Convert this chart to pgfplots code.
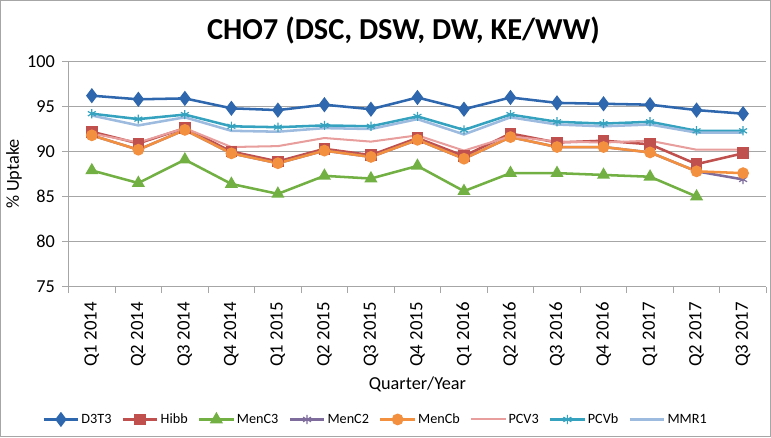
\documentclass[border=0pt]{standalone}
\usepackage{pgfplots}
\pgfplotsset{compat=1.18}
\usepackage{fontspec}
\setmainfont{Carlito}

\definecolor{cD}{HTML}{2E67AE}
\definecolor{cH}{HTML}{C0504D}
\definecolor{cM3}{HTML}{72B043}
\definecolor{cM2}{HTML}{7E6C9C}
\definecolor{cMb}{HTML}{F39040}
\definecolor{cP3}{HTML}{E89E9C}
\definecolor{cPb}{HTML}{35A3C0}
\definecolor{cMM}{HTML}{9DBADF}
\definecolor{gridc}{HTML}{A6A6A6}

\begin{document}
\begin{tikzpicture}
\begin{axis}[
  name=ax,
  scale only axis,
  width=688pt, height=222pt,
  xmin=-0.5, xmax=14.5,
  ymin=75, ymax=100,
  ytick={75,80,...,100},
  xtick={0,...,14},
  xticklabels={Q1 2014,Q2 2014,Q3 2014,Q4 2014,Q1 2015,Q2 2015,Q3 2015,Q4 2015,Q1 2016,Q2 2016,Q3 2016,Q4 2016,Q1 2017,Q2 2017,Q3 2017},
  minor xtick={-0.5,0.5,...,14.5},
  major x tick style={draw=none},
  minor x tick style={draw=gridc, line width=1pt},
  y tick style={draw=gridc, line width=1pt},
  tick align=outside,
  major tick length=6pt, minor tick length=6pt,
  axis x line*=bottom, axis y line*=left,
  axis line style={draw=gridc, line width=1.5pt, -},
  ymajorgrids, grid style={draw=gridc, line width=1.5pt},
  tick label style={font=\fontsize{18}{21}\selectfont},
  xticklabel style={rotate=90, anchor=east, font=\fontsize{18.5}{22}\selectfont},
  xticklabel shift=6pt,
  yticklabel style={xshift=-4pt},
  /pgf/number format/assume math mode=true,
  xlabel={Quarter/Year},
  ylabel={\% Uptake},
  label style={font=\fontsize{18}{21}\selectfont},
  xlabel style={at={(axis description cs:0.5,-0.435)}, anchor=center},
  ylabel style={at={(axis description cs:-0.078,0.5)}, anchor=center},
  title={CHO7 (DSC, DSW, DW, KE/WW)},
  title style={font=\fontsize{30}{34}\selectfont\bfseries, at={(axis description cs:0.48,1.11)}, anchor=center},
  legend columns=8,
  legend style={draw=none, fill=none, at={(0.44,-0.59)}, anchor=center,
    font=\fontsize{14}{16}\selectfont, /tikz/every even column/.append style={column sep=8pt}},
  legend image code/.code={\draw[mark repeat=2,mark phase=2] plot coordinates {(0pt,0pt) (17pt,0pt) (34pt,0pt)};},
  every axis plot/.append style={line width=2.5pt},
  clip=false,
]
\addplot[cD, mark=diamond*, mark size=5.5pt, mark options={solid}] coordinates {
(0,96.2) (1,95.8) (2,95.9) (3,94.8) (4,94.6) (5,95.2) (6,94.7) (7,96.0)
(8,94.7) (9,96.0) (10,95.4) (11,95.3) (12,95.2) (13,94.6) (14,94.2)};
\addlegendentry{D3T3}
\addplot[cH, mark=square*, mark size=4.5pt] coordinates {
(0,92.2) (1,90.9) (2,92.6) (3,90.0) (4,88.9) (5,90.3) (6,89.6) (7,91.5)
(8,89.5) (9,92.0) (10,91.0) (11,91.2) (12,90.8) (13,88.6) (14,89.8)};
\addlegendentry{Hibb}
\addplot[cM3, mark=triangle*, mark size=5pt] coordinates {
(0,87.9) (1,86.5) (2,89.1) (3,86.4) (4,85.3) (5,87.3) (6,87.0) (7,88.4)
(8,85.6) (9,87.6) (10,87.6) (11,87.4) (12,87.2) (13,85.0)};
\addlegendentry{MenC3}
\addplot[cM2, mark=asterisk, mark size=4.5pt, mark options={line width=1.2pt}] coordinates {
(0,91.8) (1,90.2) (2,92.4) (3,89.8) (4,88.7) (5,90.1) (6,89.4) (7,91.3)
(8,89.2) (9,91.6) (10,90.5) (11,90.5) (12,89.9) (13,87.8) (14,86.9)};
\addlegendentry{MenC2}
\addplot[cMb, mark=*, mark size=4.5pt] coordinates {
(0,91.8) (1,90.2) (2,92.4) (3,89.8) (4,88.7) (5,90.1) (6,89.4) (7,91.3)
(8,89.2) (9,91.6) (10,90.5) (11,90.5) (12,89.9) (13,87.8) (14,87.6)};
\addlegendentry{MenCb}
\addplot[cP3, line width=2pt] coordinates {
(0,92.0) (1,91.0) (2,92.6) (3,90.5) (4,90.6) (5,91.5) (6,91.1) (7,91.8)
(8,90.1) (9,91.7) (10,91.1) (11,91.0) (12,91.2) (13,90.2) (14,90.2)};
\addlegendentry{PCV3}
\addplot[cPb, mark=asterisk, mark size=4.5pt, mark options={line width=1.2pt}] coordinates {
(0,94.2) (1,93.6) (2,94.1) (3,92.8) (4,92.7) (5,92.9) (6,92.8) (7,93.9)
(8,92.4) (9,94.1) (10,93.3) (11,93.1) (12,93.3) (13,92.3) (14,92.3)};
\addlegendentry{PCVb}
\addplot[cMM, line width=2.5pt] coordinates {
(0,94.0) (1,92.9) (2,93.8) (3,92.3) (4,92.2) (5,92.6) (6,92.5) (7,93.6)
(8,91.9) (9,93.8) (10,93.0) (11,92.8) (12,93.0) (13,92.1) (14,92.1)};
\addlegendentry{MMR1}
\end{axis}
\draw[gray!70, line width=1.2pt] ([shift={(-67pt,-148pt)}]ax.south west) rectangle ([shift={(692pt,282pt)}]ax.south west);
\end{tikzpicture}
\end{document}
